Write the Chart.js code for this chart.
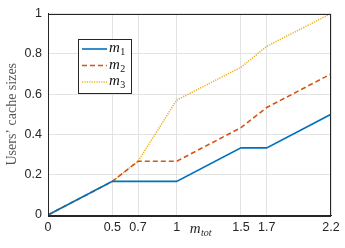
<!DOCTYPE html>
<html>
<head>
<meta charset="utf-8">
<script src="https://cdn.jsdelivr.net/npm/chart.js@4/dist/chart.umd.min.js"></script>
<style>
html,body{margin:0;padding:0;background:#fff;}
#wrap{width:345px;height:248px;position:relative;}
</style>
</head>
<body>
<div id="wrap"><canvas id="c" width="345" height="248"></canvas></div>
<script>
const xValues = [0, 0.5, 0.7, 1, 1.5, 1.7, 2.2];
const xTickLabels = ['0', '0.5', '0.7', '1', '1.5', '1.7', '2.2'];
const yTickValues = [0, 0.2, 0.4, 0.6, 0.8, 1];
const yTickLabels = ['0', '0.2', '0.4', '0.6', '0.8', '1'];
const m1 = [0, 0.1667, 0.1667, 0.1667, 0.3333, 0.3333, 0.5];
const m2 = [0, 0.1667, 0.2667, 0.2667, 0.4333, 0.5333, 0.7];
const m3 = [0, 0.1667, 0.2667, 0.5700, 0.7333, 0.8367, 1.0];
const seriesNames = ['1', '2', '3'];

const pts = arr => xValues.map((x, i) => ({x: x, y: arr[i]}));

const colors = ['#0072BD', '#D95319', '#EDB120'];
const dashes = [[], [5, 3], [1.2, 1.2]];

const frame = {
  id: 'frame',
  afterDraw(chart) {
    const ctx = chart.ctx, a = chart.chartArea;
    ctx.save();
    ctx.strokeStyle = '#262626';
    ctx.lineWidth = 1;
    ctx.strokeRect(Math.round(a.left) + 0.5, Math.round(a.top) + 0.5, Math.round(a.right - a.left) - 1, Math.round(a.bottom - a.top));
    // x axis title m_tot
    ctx.fillStyle = '#262626';
    ctx.textBaseline = 'alphabetic';
    ctx.font = 'italic 15px "Liberation Serif"';
    const xs = chart.scales.x;
    const tx = xs.getPixelForValue(1) + 13;
    ctx.fillText('m', tx, 233);
    const mw = ctx.measureText('m').width;
    ctx.font = 'italic 10px "Liberation Serif"';
    ctx.fillText('tot', tx + mw + 0.5, 236);
    // legend
    const lx = 78.5, ly = 39.5, lw = 53, lh = 54;
    ctx.fillStyle = '#fff';
    ctx.fillRect(lx, ly, lw, lh);
    ctx.strokeStyle = '#262626';
    ctx.strokeRect(lx, ly, lw, lh);
    const rows = [49, 65.5, 82];
    chart.data.datasets.forEach((ds, i) => {
      ctx.save();
      ctx.strokeStyle = ds.borderColor;
      ctx.lineWidth = ds.borderWidth;
      ctx.setLineDash(ds.borderDash || []);
      ctx.beginPath();
      ctx.moveTo(82, rows[i]);
      ctx.lineTo(107, rows[i]);
      ctx.stroke();
      ctx.restore();
      ctx.fillStyle = '#111';
      ctx.font = 'italic 15px "Liberation Serif"';
      ctx.fillText('m', 109, rows[i] + 3);
      const w = ctx.measureText('m').width;
      ctx.font = '10px "Liberation Serif"';
      ctx.fillText(seriesNames[i], 109 + w + 0.5, rows[i] + 6);
    });
    ctx.restore();
  }
};

new Chart(document.getElementById('c'), {
  type: 'scatter',
  data: {
    datasets: [m1, m2, m3].map((arr, i) => ({
      label: 'm' + seriesNames[i],
      data: pts(arr),
      showLine: true,
      borderColor: colors[i],
      backgroundColor: colors[i],
      borderWidth: 1.6,
      borderDash: dashes[i],
      pointRadius: 0,
      tension: 0,
      fill: false
    }))
  },
  options: {
    responsive: false,
    animation: false,
    devicePixelRatio: 1,
    layout: {padding: {top: 13, right: 14, left: 0, bottom: 0}},
    plugins: {legend: {display: false}, tooltip: {enabled: false}},
    scales: {
      x: {
        type: 'linear', min: 0, max: 2.2,
        afterBuildTicks: s => { s.ticks = xValues.map(v => ({value: v})); },
        afterFit: s => { s.height = 33; },
        ticks: {
          callback: (v, i) => xTickLabels[i],
          color: '#262626', font: {family: '"Liberation Sans"', size: 12.5},
          maxRotation: 0, autoSkip: false, padding: 5
        },
        grid: {color: '#e3e3e3', drawTicks: false, lineWidth: 1},
        border: {color: '#262626'}
      },
      y: {
        type: 'linear', min: 0, max: 1,
        afterBuildTicks: s => { s.ticks = yTickValues.map(v => ({value: v})); },
        afterFit: s => { s.width = 48; },
        ticks: {
          callback: (v, i) => yTickLabels[i],
          color: '#262626', font: {family: '"Liberation Sans"', size: 12.5},
          padding: 6
        },
        grid: {color: '#e3e3e3', drawTicks: false, lineWidth: 1},
        border: {color: '#262626'},
        title: {
          display: true, text: 'Users’ cache sizes', color: '#555',
          font: {family: '"Liberation Serif"', size: 14}, padding: {top: 4, bottom: 0}
        }
      }
    }
  },
  plugins: [frame]
});
</script>
</body>
</html>
